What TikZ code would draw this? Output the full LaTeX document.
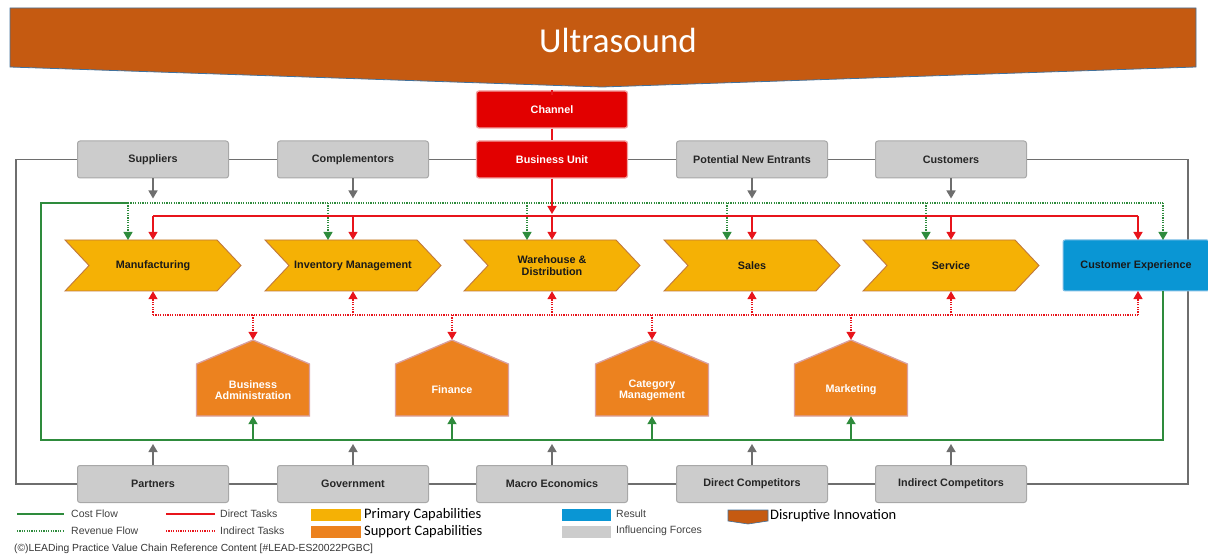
\documentclass[tikz,border=0pt]{standalone}
\usepackage{fontspec}
\setmainfont{Liberation Sans}
\newfontfamily\carfont{Carlito}
\usetikzlibrary{arrows.meta,calc}
\definecolor{banner}{HTML}{C55A11}
\definecolor{bannerline}{HTML}{41719C}
\definecolor{gfill}{HTML}{CCCCCC}
\definecolor{gborder}{HTML}{A8A8A8}
\definecolor{gline}{HTML}{6E6E6E}
\definecolor{rfill}{HTML}{E20000}
\definecolor{rborder}{HTML}{F2A0A0}
\definecolor{rline}{HTML}{E8141B}
\definecolor{pfill}{HTML}{F5B105}
\definecolor{pborder}{HTML}{C0783C}
\definecolor{sfill}{HTML}{EC821F}
\definecolor{sborder}{HTML}{D9A0A0}
\definecolor{bfill}{HTML}{0A96D4}
\definecolor{bborder}{HTML}{7FBFE6}
\definecolor{gr}{HTML}{2E8B3C}
\definecolor{legtext}{HTML}{404040}
\tikzset{
  tip/.style={-{Triangle[width=9pt,length=8pt]}},
  gbox/.style={draw=gborder, fill=gfill, rounded corners=2.5pt, line width=1pt, minimum width=151pt, minimum height=37pt, inner sep=0pt, font=\fontsize{10.8}{12}\selectfont\bfseries, text=black!85},
  rbox/.style={gbox, draw=rborder, fill=rfill, line width=1.3pt, text=white},
  cbox/.style={draw=none, minimum width=176pt, minimum height=51pt, inner sep=0pt, align=center, font=\fontsize{10.8}{11.5}\selectfont\bfseries, text=black!90},
  hbox/.style={draw=none, minimum width=113pt, minimum height=76pt, inner sep=0pt},
  htext/.style={align=center, font=\fontsize{10.8}{11}\selectfont\bfseries, text=white},
  grayline/.style={draw=gline, line width=1.4pt},
  grayarrow/.style={grayline, tip},
  direct/.style={draw=rline, line width=1.5pt},
  directarrow/.style={direct, tip},
  indirect/.style={draw=rline, line width=1.3pt, dash pattern=on 1.2pt off 1.2pt},
  indirectarrow/.style={indirect, tip},
  cost/.style={draw=gr, line width=1.8pt},
  costarrow/.style={cost, tip},
  revenue/.style={draw=gr, line width=1.3pt, dash pattern=on 1.2pt off 1.2pt},
  revenuearrow/.style={revenue, tip},
  legtxt/.style={anchor=west, inner sep=0pt, font=\fontsize{10.5}{12}\selectfont, text=legtext},
  legtxtb/.style={anchor=west, inner sep=0pt, font=\carfont\fontsize{14.5}{16}\selectfont, text=black},
}
\newcommand\chevronat[3]{%
  \fill[pfill, draw=pborder, line width=0.9pt] (#2-88,240) -- (#2+64,240) -- (#2+88,265.5) -- (#2+64,291) -- (#2-88,291) -- (#2-64,265.5) -- cycle;
  \node[cbox] (#1) at (#2,265.5) {#3};}
\newcommand\houseat[3]{%
  \fill[sfill, draw=sborder, line width=1.3pt] (#2-56.5,416) -- (#2-56.5,364) -- (#2,340) -- (#2+56.5,364) -- (#2+56.5,416) -- cycle;
  \node[hbox] (#1) at (#2,378) {};
  \node[htext] at (#2,390) {#3};}
\begin{document}
\begin{tikzpicture}[x=1pt,y=-1pt]
\useasboundingbox (0,0) rectangle (1208,556);
% banner
\fill[banner, draw=bannerline, line width=0.8pt] (10,8) -- (1196,8) -- (1196,67) -- (602,87) -- (10,67) -- cycle;
\node[font=\carfont\fontsize{35}{40}\selectfont, text=white, inner sep=0pt] (title) at (618,40) {Ultrasound};
% lines between the influencing forces (drawn first, boxes on top)
\coordinate (tl) at (16,159.5);
\coordinate (bl) at (16,484);
\coordinate (tr) at (1188,159.5);
\coordinate (br) at (1188,484);
\draw[grayline] (153,159.5) -- (tl) -- (bl) -- (153,484);
\draw[grayline] (951,159.5) -- (tr) -- (br) -- (951,484);
\draw[grayline] (153,159.5) -- (951,159.5);
\draw[grayline] (153,484) -- (951,484);
% top row nodes
\node[rbox] (ch) at (552,109.5) {Channel};
\node[gbox] (sup) at (153,159.5) {Suppliers};
\node[gbox] (comp) at (353,159.5) {Complementors};
\node[rbox] (bu) at (552,159.5) {Business Unit};
\node[gbox] (pne) at (752,159.5) {Potential New Entrants};
\node[gbox] (cus) at (951,159.5) {Customers};
% bottom row nodes
\node[gbox] (par) at (153,484) {Partners};
\node[gbox] (gov) at (353,484) {Government};
\node[gbox] (mac) at (552,484) {Macro Economics};
\node[gbox] (dc) at (752,484) {Direct Competitors};
\node[gbox] (ic) at (951,484) {Indirect Competitors};
% channel connections
\draw[direct] (ch.north) -- ++(0,5);
\draw[direct] (ch.south) -- (bu.north);
% primary capabilities
\chevronat{manu}{153}{Manufacturing}
\chevronat{inv}{353}{Inventory Management}
\chevronat{war}{552}{Warehouse \&\\Distribution}
\chevronat{sal}{752}{Sales}
\chevronat{ser}{951}{Service}
% customer experience
\node[draw=bborder, fill=bfill, line width=1pt, rounded corners=2pt, minimum width=146pt, minimum height=51pt, inner sep=0pt, font=\fontsize{10.8}{12}\selectfont\bfseries, text=black!90] (cx) at (1136,265.5) {Customer Experience};
% support capabilities
\houseat{ba}{253}{Business\\Administration}
\houseat{fin}{452}{Finance}
\houseat{cat}{652}{Category\\Management}
\houseat{mkt}{851}{Marketing}
% gray influence arrows
\draw[grayarrow] (sup.south) -- ++(0,20);
\draw[grayarrow] (comp.south) -- ++(0,20);
\draw[grayarrow] (pne.south) -- ++(0,20);
\draw[grayarrow] (cus.south) -- ++(0,20);
\draw[grayarrow] (par.north) -- ++(0,-21);
\draw[grayarrow] (gov.north) -- ++(0,-21);
\draw[grayarrow] (mac.north) -- ++(0,-21);
\draw[grayarrow] (dc.north) -- ++(0,-21);
\draw[grayarrow] (ic.north) -- ++(0,-21);
% revenue flow (dotted green)
\coordinate (rv0) at (128,203);
\coordinate (rv1) at (1163,203);
\draw[revenue] (rv0) -- (rv1);
\draw[revenuearrow] (rv0) -- (128,240);
\draw[revenuearrow] (328,203) -- (328,240);
\draw[revenuearrow] (527,203) -- (527,240);
\draw[revenuearrow] (727,203) -- (727,240);
\draw[revenuearrow] (926,203) -- (926,240);
\draw[revenuearrow] (rv1) -- (1163,240);
% cost flow (solid green)
\coordinate (cf1) at (1163,440);
\coordinate (cf2) at (41,440);
\coordinate (cf3) at (41,203);
\draw[cost] (1163,291) -- (cf1) -- (cf2) -- (cf3) -- (rv0);
\draw[costarrow] (253,440) -- (ba.south);
\draw[costarrow] (452,440) -- (fin.south);
\draw[costarrow] (652,440) -- (cat.south);
\draw[costarrow] (851,440) -- (mkt.south);
% direct tasks (red solid)
\coordinate (dt) at (552,216);
\draw[directarrow] (bu.south) -- (552,214);
\draw[direct] (153,216) -- (1138,216);
\draw[directarrow] (153,216) -- (manu.north);
\draw[directarrow] (353,216) -- (inv.north);
\draw[directarrow] (dt) -- (war.north);
\draw[directarrow] (752,216) -- (sal.north);
\draw[directarrow] (951,216) -- (ser.north);
\draw[directarrow] (1138,216) -- (1138,240);
% indirect tasks (red dotted)
\draw[indirect] (153,315) -- (1138,315);
\draw[indirectarrow] (153,315) -- (manu.south);
\draw[indirectarrow] (353,315) -- (inv.south);
\draw[indirectarrow] (552,315) -- (war.south);
\draw[indirectarrow] (752,315) -- (sal.south);
\draw[indirectarrow] (951,315) -- (ser.south);
\draw[indirectarrow] (1138,315) -- (1138,291);
\draw[indirectarrow] (253,315) -- (ba.north);
\draw[indirectarrow] (452,315) -- (fin.north);
\draw[indirectarrow] (652,315) -- (cat.north);
\draw[indirectarrow] (851,315) -- (mkt.north);
% legend
\draw[cost] (17,514) -- (64,514);
\node[legtxt] at (71,514) {Cost Flow};
\draw[revenue] (17,531) -- (64,531);
\node[legtxt] at (71,531) {Revenue Flow};
\draw[direct] (166,514) -- (215,514);
\node[legtxt] at (220,514) {Direct Tasks};
\draw[indirect] (166,531) -- (215,531);
\node[legtxt] at (220,531) {Indirect Tasks};
\fill[pfill] (311,509) rectangle (361,521);
\node[legtxtb] at (364,515) {Primary Capabilities};
\fill[sfill] (311,526) rectangle (361,538);
\node[legtxtb] at (364,532) {Support Capabilities};
\fill[bfill] (562,509) rectangle (611,521);
\node[legtxt] at (616,514) {Result};
\fill[gfill] (562,526) rectangle (611,538);
\node[legtxt] at (616,531) {Influencing Forces};
\fill[banner, draw=bannerline, line width=0.6pt] (728,510) -- (768,510) -- (768,521) -- (748,524) -- (728,521) -- cycle;
\node[legtxtb] at (770,516) {Disruptive Innovation};
\node[anchor=west, inner sep=0pt, font=\fontsize{10.3}{11}\selectfont, text=black!80] at (14,548.5) {(\textcopyright)LEADing Practice Value Chain Reference Content [\#LEAD-ES20022PGBC]};
\end{tikzpicture}
\end{document}
